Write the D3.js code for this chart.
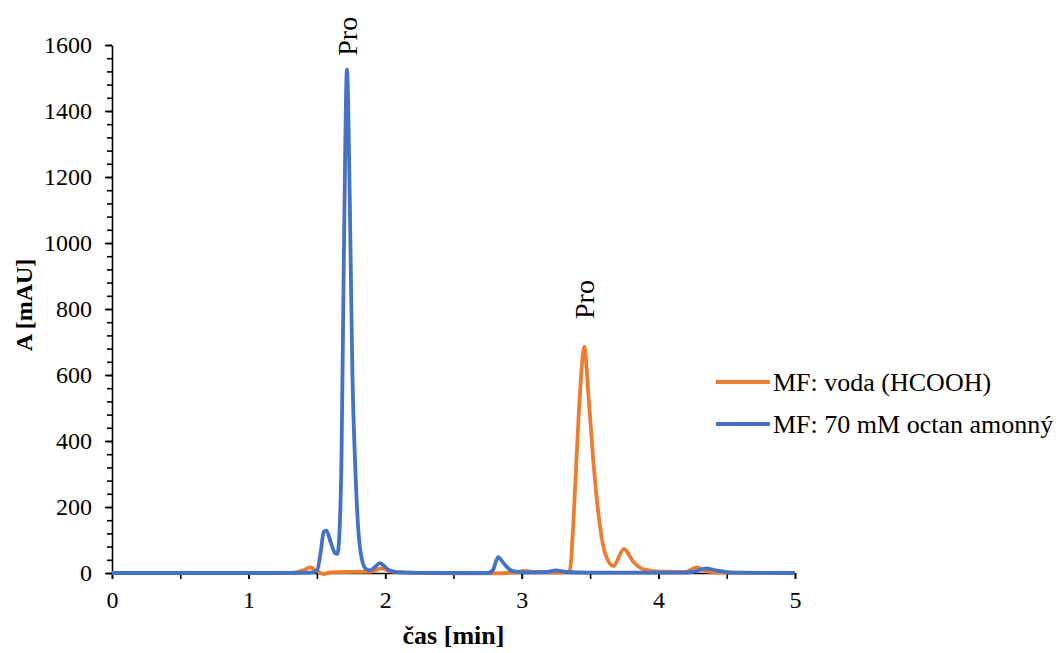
<!DOCTYPE html>
<html>
<head>
<meta charset="utf-8">
<script src="https://cdn.jsdelivr.net/npm/d3@7"></script>
<style>
  body { margin: 0; background: #fff; }
</style>
</head>
<body>
<div id="chart"></div>
<script>
var seriesNames = ["MF: voda (HCOOH)", "MF: 70 mM octan amonný"];
var seriesColors = ["#ED7D31", "#4472C4"];

// orange: voda (HCOOH)
var vodaTime = [0, 1.3, 1.40, 1.45, 1.50, 1.55, 1.60, 1.70, 1.90, 1.97, 2.05, 2.3, 2.8, 2.95, 3.02, 3.10, 3.30,
  3.35, 3.376, 3.40, 3.426, 3.458, 3.487, 3.523, 3.56, 3.61, 3.67, 3.748, 3.816, 3.89, 4.01, 4.2, 4.28, 4.36, 4.5, 5.0];
var vodaA = [0, 0, 8, 17, 6, -3, 2, 3, 4, 14, 4, 0, -1, 2, 6, 2, 1,
  5, 140, 342, 545, 685, 545, 342, 182, 60, 21, 73, 34, 11, 4, 3, 17, 4, 1, 0];

// blue: 70 mM octan amonny
var octanTime = [0, 1.2, 1.45, 1.50, 1.53, 1.55, 1.57, 1.60, 1.63, 1.65, 1.665, 1.68, 1.70, 1.72, 1.74, 1.76, 1.78,
  1.80, 1.83, 1.86, 1.89, 1.93, 1.96, 1.99, 2.03, 2.1, 2.4, 2.75, 2.79, 2.826, 2.87, 2.92, 3.0, 3.18, 3.25, 3.32, 3.5,
  4.2, 4.28, 4.35, 4.42, 4.55, 5.0];
var octanA = [0, 0, 1, 6, 70, 125, 128, 95, 62, 58, 120, 350, 1050, 1525, 1150, 600, 330,
  150, 40, 12, 8, 20, 30, 22, 8, 2, 0, 0, 10, 48, 28, 8, 2, 3, 8, 3, 1,
  1, 6, 14, 8, 1, 0];

var yTicks = [0, 200, 400, 600, 800, 1000, 1200, 1400, 1600];
var xTicks = [0, 1, 2, 3, 4, 5];
var peakTime = [1.72, 3.458];
var peakA = [1525, 685];
var peakText = ["Pro", "Pro"];

var font = "Liberation Serif";
var width = 1061, height = 653;
var margin = { top: 45, right: 266, bottom: 80, left: 112 };
var labelGap = [14, 28]; // px between peak top and its label

var svg = d3.select("#chart").append("svg")
  .attr("width", width)
  .attr("height", height)
  .attr("font-family", font);

var x = d3.scaleLinear([0, 5], [margin.left, width - margin.right]);
var y = d3.scaleLinear([0, 1600], [height - margin.bottom, margin.top]);

// axes (minor ticks first, then labelled major ticks)
var yAxis = svg.append("g").attr("transform", "translate(" + margin.left + ",0)");
yAxis.call(d3.axisLeft(y).tickValues(d3.range(0, 1601, 40)).tickFormat("").tickSize(5).tickSizeOuter(0));
yAxis.append("g").call(d3.axisLeft(y).tickValues(yTicks).tickFormat(d3.format("d")).tickSize(7).tickPadding(13).tickSizeOuter(0))
  .call(function (g) { g.select(".domain").remove(); });
yAxis.selectAll("g").attr("font-family", font);
yAxis.selectAll("line, path").attr("stroke", "#000").attr("stroke-width", 1.6);
yAxis.selectAll("text").attr("font-size", 24).attr("fill", "#000").attr("font-family", font);

var xAxis = svg.append("g").attr("transform", "translate(0," + y(0) + ")");
xAxis.call(d3.axisBottom(x).tickValues(d3.range(0, 5.01, 0.5)).tickFormat("").tickSize(6).tickSizeOuter(0));
xAxis.append("g").call(d3.axisBottom(x).tickValues(xTicks).tickFormat(d3.format("d")).tickSize(6).tickPadding(12))
  .call(function (g) { g.select(".domain").remove(); });
xAxis.attr("font-family", font);
xAxis.selectAll("g").attr("font-family", font);
xAxis.selectAll("line, path").attr("stroke", "#000").attr("stroke-width", 1.6);
xAxis.selectAll("text").attr("font-size", 24).attr("fill", "#000").attr("font-family", font);
yAxis.attr("font-family", font);

// series
var data = [
  vodaTime.map(function (t, i) { return [t, vodaA[i]]; }),
  octanTime.map(function (t, i) { return [t, octanA[i]]; })
];
var line = d3.line()
  .x(function (d) { return x(d[0]); })
  .y(function (d) { return y(d[1]); })
  .curve(d3.curveMonotoneX);

svg.append("g").selectAll("path")
  .data(data)
  .join("path")
  .attr("fill", "none")
  .attr("stroke", function (d, i) { return seriesColors[i]; })
  .attr("stroke-width", 3.8)
  .attr("stroke-linejoin", "round")
  .attr("d", line);

// peak labels
svg.append("g").selectAll("text")
  .data(peakText)
  .join("text")
  .attr("transform", function (d, i) {
    return "translate(" + (x(peakTime[i]) + 10) + "," + (y(peakA[i]) - labelGap[i]) + ") rotate(-90)";
  })
  .attr("font-size", 28)
  .attr("fill", "#000")
  .attr("font-family", font)
  .text(function (d) { return d; });

// axis titles
svg.append("text")
  .attr("transform", "translate(32,305) rotate(-90)")
  .attr("text-anchor", "middle")
  .attr("font-size", 24)
  .attr("font-weight", "bold")
  .attr("font-family", font)
  .text("A [mAU]");
svg.append("text")
  .attr("x", (x(0) + x(5)) / 2)
  .attr("y", 644)
  .attr("text-anchor", "middle")
  .attr("font-size", 26)
  .attr("font-weight", "bold")
  .attr("font-family", font)
  .text("čas [min]");

// legend
var legend = svg.append("g").selectAll("g")
  .data(seriesNames)
  .join("g")
  .attr("transform", function (d, i) { return "translate(716," + (382 + i * 42) + ")"; });
legend.append("line")
  .attr("x1", 0).attr("x2", 54)
  .attr("stroke", function (d, i) { return seriesColors[i]; })
  .attr("stroke-width", 3.8);
legend.append("text")
  .attr("x", 57)
  .attr("y", 9)
  .attr("font-size", 26)
  .attr("fill", "#000")
  .attr("font-family", font)
  .text(function (d) { return d; });
</script>
</body>
</html>
